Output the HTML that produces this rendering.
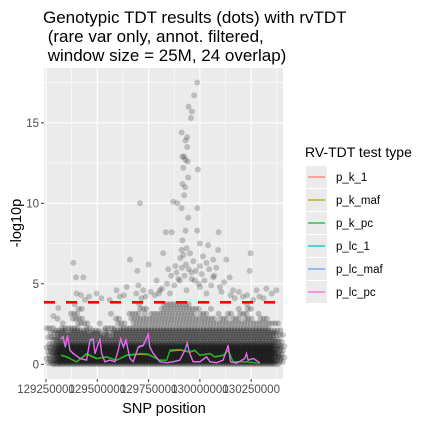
<!DOCTYPE html>
<html><head><meta charset="utf-8"><style>
body{margin:0;background:#fff;}
svg text{font-family:"Liberation Sans",Arial,sans-serif;}
</style></head><body>
<svg id="chart" width="433" height="422" viewBox="0 0 433 422" xmlns="http://www.w3.org/2000/svg">
<g font-size="17" fill="#000">
<text x="43" y="23">Genotypic TDT results (dots) with rvTDT</text>
<text x="43" y="42">&#160;(rare var only, annot. filtered,</text>
<text x="43" y="61">&#160;window size = 25M, 24 overlap)</text>
</g>
<rect x="44" y="68" width="239" height="311" fill="#ebebeb"/>
<g id="grid"></g>
<g id="dots"></g>
<g id="lines"></g>
<g id="thr"></g>
<g id="axes"></g>
<text x="164" y="413" font-size="14.5" text-anchor="middle">SNP position</text>
<text x="0" y="0" font-size="14.5" text-anchor="middle" transform="translate(21,223) rotate(-90)">-log10p</text>
<g id="legend">
<text x="305" y="157" font-size="14">RV-TDT test type</text>
</g>
</svg>
<script>
// ---- data ----
const yTicks=[0,5,10,15];
const xTicks=[129250,129500,129750,130000,130250];
const xTickLabels=["129250000","129500000","129750000","130000000","130250000"];
const threshold=3.85;
const snpPos=[129987,129972,129945,129961,129956,129911,129938,129930,129938,129915,129923,129930,129940,129919,129990,129943,129915,129928,129923,129708,129870,129890,129911,129988,129943,129930,129987,129834,129863,130091,129915,130000,130040,130089,129911,129821,130247,129935,129383,129659,129750,130129,130243,129695,129396,129432,130000,130032,130065,129959,129886,129846,129789,130145,129594,129399,129497,129643,129724,130097,130162,130276,130324,130373,130000,129935,129854,129805,129902,129975,130032,130065,129310,129286,
129905,129912,129920,129925,129932,129945,129952,129960,129968,129980,129995,130008,130015,130022,130045,130055,130070,130080,130105,130118,129860,129875,129880,129895,129840,129815,129800,129780,129760,129735,129715,129700,129690,130150,130170,130190,130210,130230,130260,130290,130310,130350,129420,129440,129460,129520,129560,129610,129630];
const snpLogp=[17.5,16.7,16.0,15.7,15.3,14.4,14.1,13.9,13.5,12.9,12.9,12.7,12.6,12.2,12.1,11.6,11.2,11.0,10.5,10.0,10.1,10.0,9.7,9.7,9.1,8.3,8.3,8.2,8.2,8.2,7.7,7.5,7.4,7.1,7.1,6.9,6.9,7.2,6.3,6.5,6.2,6.5,5.8,5.8,5.4,5.4,6.1,6.3,6.5,5.7,5.7,5.9,5.2,5.4,4.6,4.4,4.4,4.8,4.6,4.8,4.6,4.6,4.7,4.6,4.8,4.6,4.4,4.6,5.2,5.2,4.4,5.4,3.5,3.0,
6.6,6.0,6.8,5.5,6.2,5.9,6.9,5.3,6.4,5.8,5.0,5.6,6.7,5.2,5.9,4.9,5.5,6.0,4.5,5.1,5.5,4.9,6.1,5.3,5.0,4.7,4.4,4.3,4.5,4.2,4.1,4.9,4.4,4.3,4.1,4.5,4.2,4.3,4.0,4.2,4.1,4.4,4.3,4.0,4.2,4.1,4.0,4.2,4.3];
const bandPos=[129285,129300,129315,129330,129345,129360,129375,129390,129405,129420,129435,129450,129465,129480,129495,129510,129525,129540,129555,129570,129585,129600,129615,129630,129645,129660,129675,129690,129705,129720,129735,129750,129765,129780,129795,129810,129825,129840,129855,129870,129885,129900,129915,129930,129945,129960,129975,129990,130005,130020,130035,130050,130065,130080,130095,130110,130125,130140,130155,130170,130185,130200,130215,130230,130245,130260,130275,130290,130305,130320,130335,130350,130365,130380];
const bandTop=[2.5,3.0,2.5,2.2,2.0,2.5,3.0,3.8,3.5,3.2,2.5,2.0,2.2,2.8,2.5,2.0,2.2,1.8,2.0,2.8,3.3,3.0,2.5,2.2,2.6,3.0,3.2,3.5,3.8,3.5,3.0,3.2,3.0,3.3,3.5,3.6,3.8,3.8,3.8,3.8,3.8,3.8,3.8,3.8,3.8,3.6,3.5,3.2,3.0,3.3,3.5,3.2,3.0,2.8,3.0,3.2,3.0,2.8,3.2,3.5,3.0,2.8,3.5,3.8,3.3,2.8,2.6,3.0,3.2,3.0,2.8,2.6,2.5,2.2];
const lcPos=[129323,129334,129344,129355,129367,129383,129416,129448,129464,129480,129489,129505,129513,129521,129537,129562,129586,129602,129614,129627,129640,129659,129675,129700,129724,129748,129756,129773,129805,129838,129870,129902,129927,129938,129951,129967,130000,130032,130049,130081,130113,130138,130149,130178,130219,130227,130235,130260,130292];
const lcPc=[1.61,1.72,1.10,1.80,0.89,0.68,0.37,0.27,1.52,1.61,0.68,1.30,1.61,0.68,0.17,0.27,0.17,0.89,1.61,1.10,1.52,0.37,0.17,1.10,1.20,1.88,1.10,0.68,0.17,0.10,0.17,0.27,0.89,1.35,0.68,0.17,0.17,0.48,0.17,0.10,0.27,1.20,0.17,0.06,0.37,0.68,0.27,0.37,0.10];
const lcMaf=[1.55,1.65,1.05,1.75,0.85,0.65,0.35,0.25,1.45,1.55,0.65,1.25,1.55,0.65,0.15,0.25,0.15,0.85,1.55,1.05,1.45,0.35,0.15,1.05,1.15,1.80,1.05,0.65,0.15,0.10,0.15,0.25,0.85,1.30,0.65,0.15,0.15,0.45,0.15,0.10,0.25,1.15,0.15,0.06,0.35,0.65,0.25,0.35,0.10];
const kPos=[129323,129351,129399,129448,129497,129545,129594,129643,129708,129748,129805,129838,129854,129902,129951,129975,130000,130049,130073,130113,130138,130162,130227,130292];
const kPc=[0.58,0.48,0.17,0.68,0.37,0.48,0.27,0.58,0.68,0.64,0.27,0.27,0.89,0.93,0.79,0.89,0.58,0.68,0.48,0.58,0.89,0.17,0.17,0.06];
const kMaf=[0.55,0.45,0.15,0.62,0.35,0.45,0.25,0.55,0.62,0.60,0.25,0.25,0.82,0.88,0.75,0.85,0.55,0.65,0.45,0.55,0.85,0.15,0.15,0.06];
const legendLabels=["p_k_1","p_k_maf","p_k_pc","p_lc_1","p_lc_maf","p_lc_pc"];
const legendColors=["#F8766D","#B79F00","#00BA38","#00BFC4","#619CFF","#F564E3"];

// ---- scales ----
const X=v=>46+(v-129250)/250*51.3;
const Y=v=>364.3-v*16.1;
const NS="http://www.w3.org/2000/svg";
function mk(tag,attrs,parent){const e=document.createElementNS(NS,tag);for(const k in attrs)e.setAttribute(k,attrs[k]);parent.appendChild(e);return e;}
const grid=document.getElementById('grid');
[2.5,7.5,12.5,17.5].forEach(v=>{const l=mk('line',{x1:44,x2:283,y1:Y(v),y2:Y(v),stroke:'#fff','stroke-width':0.55},grid);

});
[129125,129375,129625,129875,130125,130375].forEach(v=>{if(X(v)<44||X(v)>283)return;const l=mk('line',{x1:X(v),x2:X(v),y1:68,y2:379,stroke:'#fff','stroke-width':0.55},grid);

});
yTicks.forEach(v=>{const l=mk('line',{x1:44,x2:283,y1:Y(v),y2:Y(v),stroke:'#fff','stroke-width':1.1},grid);

});
xTicks.forEach(v=>{const l=mk('line',{x1:X(v),x2:X(v),y1:68,y2:379,stroke:'#fff','stroke-width':1.1},grid);

});

const dots=document.getElementById('dots');
const offs=[0,-5,5,-2.5,2.6,-6.5,6.5,1.2,-3.8,3.9];
bandPos.forEach((p,i)=>{
  const top=bandTop[i];let k=0;
  for(let v=0;v<=top;v+=(v<1.2?0.07:(v<2.2?0.14:0.3))){
    const c=mk('circle',{cx:X(p)+offs[k%10],cy:Y(v),r:3,fill:'#000','fill-opacity':0.22},dots);
    
    
    k++;}
});
snpPos.forEach((p,i)=>{const c=mk('circle',{cx:X(p),cy:Y(snpLogp[i]),r:3,fill:'#000','fill-opacity':0.2},dots);

});

const lines=document.getElementById('lines');
function path(xs,ys,color,name){const d=xs.map((x,i)=>(i?'L':'M')+X(x).toFixed(1)+','+Y(ys[i]).toFixed(1)).join('');
const p=mk('path',{d:d,fill:'none',stroke:color,'stroke-width':1.2},lines);

}
path(kPos,kMaf,legendColors[1],'line-p-k-maf');
path(kPos,kPc,legendColors[2],'line-p-k-pc');
path(lcPos,lcMaf,legendColors[4],'line-p-lc-maf');
path(lcPos,lcPc,legendColors[5],'line-p-lc-pc');

const thr=document.getElementById('thr');
const tl=mk('line',{x1:44,x2:283,y1:Y(threshold),y2:Y(threshold),stroke:'#ff0000','stroke-width':2.6,'stroke-dasharray':'11,11'},thr);



const axes=document.getElementById('axes');
yTicks.forEach(v=>{const t=mk('line',{x1:41,x2:44,y1:Y(v),y2:Y(v),stroke:'#333','stroke-width':1},axes);


const tx=mk('text',{x:39,y:Y(v)+4,'font-size':11.5,fill:'#4d4d4d','text-anchor':'end'},axes);tx.textContent=v;

});
xTicks.forEach((v,i)=>{const t=mk('line',{x1:X(v),x2:X(v),y1:379,y2:382,stroke:'#333','stroke-width':1},axes);


const tx=mk('text',{x:X(v),y:393,'font-size':11.5,fill:'#4d4d4d','text-anchor':'middle'},axes);tx.textContent=xTickLabels[i];

});

const lg=document.getElementById('legend');
legendLabels.forEach((lab,i)=>{const y0=166+i*23;
const r=mk('rect',{x:306,y:y0,width:21,height:22,fill:'#ebebeb'},lg);


const l=mk('line',{x1:308,x2:325,y1:y0+11,y2:y0+11,stroke:legendColors[i],'stroke-width':1.3},lg);


const t=mk('text',{x:336,y:y0+15,'font-size':11.5,fill:'#000'},lg);t.textContent=lab;

});
</script>
</body></html>
